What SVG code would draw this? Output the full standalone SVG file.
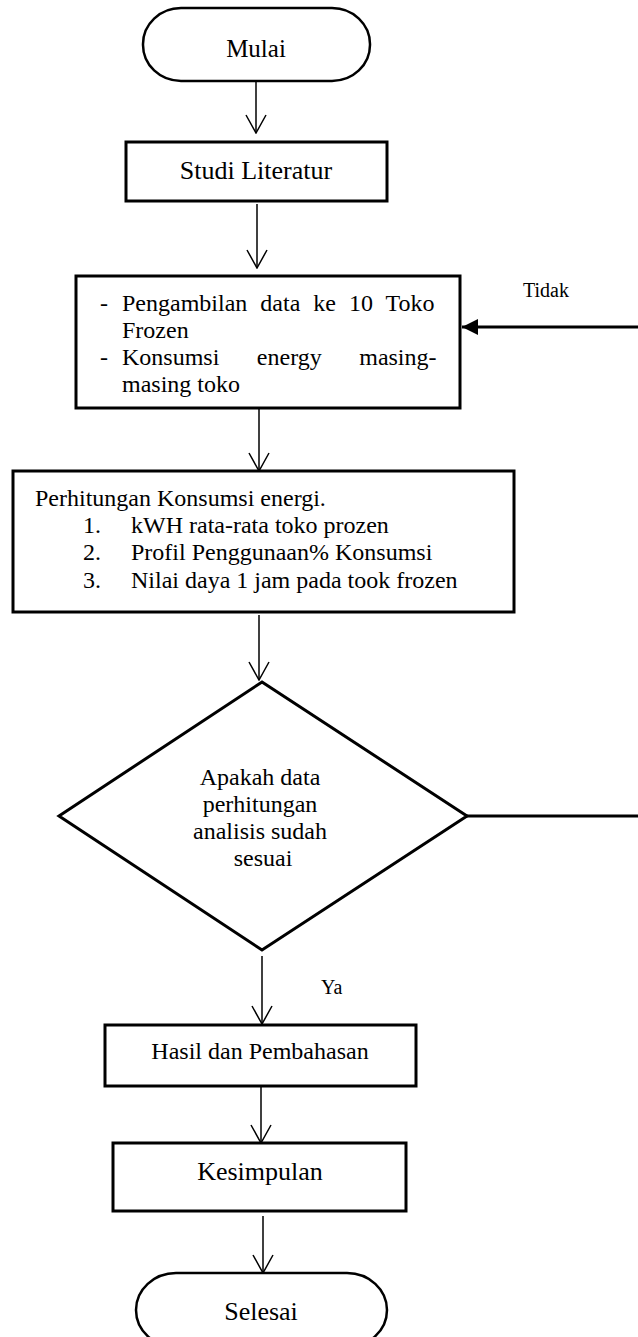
<svg xmlns="http://www.w3.org/2000/svg" width="638" height="1337" viewBox="0 0 638 1337">
<style>
.shape{fill:#fff;stroke:#000;stroke-width:3}
.term{fill:#fff;stroke:#000;stroke-width:2.5}
.t{font-family:"Liberation Serif","Times New Roman",serif;fill:#000}
.c{text-anchor:middle}
.flow{fill:none;stroke:#000;stroke-width:1.5}
.back{fill:none;stroke:#000;stroke-width:3}
</style>
<defs>
<marker id="open" viewBox="0 0 20 22" refX="19" refY="11" markerWidth="20" markerHeight="22" markerUnits="userSpaceOnUse" orient="auto">
<path d="M1,1 L19,11 L1,21" fill="none" stroke="#000" stroke-width="1.5"/>
</marker>
<marker id="solid" viewBox="0 0 16 16" refX="16" refY="8" markerWidth="16" markerHeight="16" markerUnits="userSpaceOnUse" orient="auto">
<path d="M0,0 L16,8 L0,16 Z" fill="#000"/>
</marker>
</defs>
<rect x="0" y="0" width="638" height="1337" fill="#fff"/>

<g id="connectors">
<line class="flow" x1="256" y1="81" x2="256" y2="133" marker-end="url(#open)"/>
<line class="flow" x1="257" y1="204" x2="257" y2="268" marker-end="url(#open)"/>
<line class="flow" x1="259" y1="409" x2="259" y2="471" marker-end="url(#open)"/>
<line class="flow" x1="259" y1="615" x2="259" y2="680" marker-end="url(#open)"/>
<line class="flow" x1="262" y1="956" x2="262" y2="1024" marker-end="url(#open)"/>
<line class="flow" x1="261" y1="1087" x2="261" y2="1143" marker-end="url(#open)"/>
<line class="flow" x1="263" y1="1216" x2="263" y2="1273" marker-end="url(#open)"/>
<path class="back" d="M467,816 H650 V327 H462" marker-end="url(#solid)"/>
<text class="t" x="523" y="297" font-size="20">Tidak</text>
<text class="t" x="321" y="994" font-size="20">Ya</text>
</g>

<g id="mulai">
<rect class="term" x="143" y="8" width="227" height="73" rx="38" ry="36"/>
<text class="t c" x="256" y="57" font-size="25">Mulai</text>
</g>

<g id="studi-literatur">
<rect class="shape" x="126" y="142" width="261" height="59"/>
<text class="t c" x="256" y="179" font-size="26">Studi Literatur</text>
</g>

<g id="pengambilan-data">
<rect class="shape" x="76" y="276" width="384" height="132"/>
<text class="t" font-size="24">
<tspan x="100" y="311">-</tspan>
<tspan x="122" y="311" word-spacing="7">Pengambilan data ke 10 Toko</tspan>
<tspan x="122" y="338">Frozen</tspan>
<tspan x="100" y="365">-</tspan>
<tspan x="122" y="365" word-spacing="31.5">Konsumsi energy masing-</tspan>
<tspan x="122" y="392">masing toko</tspan>
</text>
</g>

<g id="perhitungan">
<rect class="shape" x="13" y="471" width="501" height="141"/>
<text class="t" font-size="24">
<tspan x="35" y="506">Perhitungan Konsumsi energi.</tspan>
<tspan x="83" y="533">1.</tspan><tspan x="131" y="533">kWH rata-rata toko prozen</tspan>
<tspan x="83" y="560">2.</tspan><tspan x="131" y="560">Profil Penggunaan% Konsumsi</tspan>
<tspan x="83" y="588">3.</tspan><tspan x="131" y="588">Nilai daya 1 jam pada took frozen</tspan>
</text>
</g>

<g id="keputusan">
<polygon class="shape" points="262,682 467,816 262,950 59,816"/>
<text class="t c" font-size="24">
<tspan x="263" y="785">Apakah data</tspan>
<tspan x="263" y="812">perhitungan</tspan>
<tspan x="263" y="839">analisis sudah</tspan>
<tspan x="263" y="866">sesuai</tspan>
</text>
</g>

<g id="hasil">
<rect class="shape" x="105" y="1025" width="311" height="61"/>
<text class="t c" x="260" y="1059" font-size="24">Hasil dan Pembahasan</text>
</g>

<g id="kesimpulan">
<rect class="shape" x="113" y="1143" width="293" height="68"/>
<text class="t c" x="260" y="1180" font-size="26">Kesimpulan</text>
</g>

<g id="selesai">
<rect class="term" x="136" y="1273" width="251" height="74" rx="40" ry="37"/>
<text class="t c" x="261" y="1320" font-size="26">Selesai</text>
</g>
</svg>
